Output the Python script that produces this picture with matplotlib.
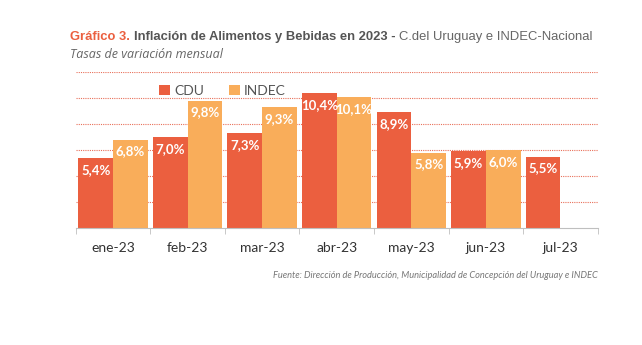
import numpy as np
import matplotlib.pyplot as plt

months = ["ene-23", "feb-23", "mar-23", "abr-23", "may-23", "jun-23", "jul-23"]
cdu = [5.4, 7.0, 7.3, 10.4, 8.9, 5.9, 5.5]
indec = [6.8, 9.8, 9.3, 10.1, 5.8, 6.0, None]

C_CDU = "#EB5F3F"
C_INDEC = "#F9AD5A"
GRID = "#E8705A"

body = "Lato"
head = "Liberation Sans"


def main():
    fig = plt.figure(figsize=(6.42, 3.45), dpi=100)
    ax = fig.add_axes([0.118, 0.339, 0.813, 0.452])

    x = np.arange(len(months))
    w = 0.465
    for i, (a, b) in enumerate(zip(cdu, indec)):
        ax.bar(x[i] - w / 2, a, w, color=C_CDU, zorder=3, label="CDU" if i == 0 else None)
        ax.text(x[i] - w / 2, a - 0.45, f"{a:.1f}%".replace(".", ","), ha="center", va="top",
                color="white", fontsize=9.5, fontweight="bold", family=body, zorder=4)
        if b is not None:
            ax.bar(x[i] + w / 2, b, w, color=C_INDEC, zorder=3, label="INDEC" if i == 0 else None)
            ax.text(x[i] + w / 2, b - 0.45, f"{b:.1f}%".replace(".", ","), ha="center", va="top",
                    color="white", fontsize=9.5, fontweight="bold", family=body, zorder=4)

    ax.set_xlim(-0.5, len(months) - 0.5)
    ax.set_ylim(0, 12)
    ax.set_yticks(np.arange(2, 13, 2))
    ax.yaxis.grid(True, color=GRID, linestyle=(0, (1, 1)), linewidth=0.8, zorder=0)
    ax.tick_params(axis="y", left=False, labelleft=False)
    for s in ["top", "right", "left"]:
        ax.spines[s].set_visible(False)
    ax.spines["bottom"].set_color("#BFBFBF")
    ax.spines["bottom"].set_zorder(5)

    ax.set_xticks(x)
    ax.set_xticklabels(months, family=body, fontsize=10, color="#333333")
    ax.tick_params(axis="x", length=0, pad=10)
    ax.set_xticks(np.arange(-0.5, len(months), 1), minor=True)
    ax.tick_params(axis="x", which="minor", length=4, color="#BFBFBF")

    ax.legend(loc="upper left", bbox_to_anchor=(0.135, 1.0), ncol=2, frameon=False,
              prop={"family": body, "size": 10}, handlelength=0.8, handleheight=0.8,
              columnspacing=1.8, handletextpad=0.3, labelcolor="#555555")

    # title in three pieces, scaled to fit the reference width
    pieces = [("Gráfico 3. ", C_CDU, "bold"),
              ("Inflación de Alimentos y Bebidas en 2023 - ", "#555555", "bold"),
              ("C.del Uruguay e INDEC-Nacional", "#666666", "normal")]
    fig.canvas.draw()
    r = fig.canvas.get_renderer()
    size = 10.5
    total = 0
    tmp = []
    for txt, col, fw in pieces:
        t = fig.text(0, 0, txt, fontweight=fw, fontsize=size, family=head)
        total += t.get_window_extent(renderer=r).width
        tmp.append(t)
    for t in tmp:
        t.remove()
    size = size * 528 / total

    xpos = 70 / 642
    ypos = 1 - 37 / 345
    for txt, col, fw in pieces:
        t = fig.text(xpos, ypos, txt, color=col, fontweight=fw, fontsize=size,
                     family=head, va="center", ha="left")
        bb = t.get_window_extent(renderer=r)
        xpos += bb.width / fig.bbox.width

    fig.text(70 / 642, 1 - 55 / 345, "Tasas de variación mensual", style="italic",
             color="#666666", fontsize=9, family="Open Sans", va="center")

    src = fig.text(598 / 642, 1 - 275 / 345,
                   "Fuente: Dirección de Producción, Municipalidad de Concepción del Uruguay e INDEC",
                   style="italic", color="#777777", fontsize=7.5, family=body,
                   va="center", ha="right")
    sw = src.get_window_extent(renderer=r).width
    src.set_fontsize(7.5 * 326 / sw)

    fig.savefig("out.png", dpi=100)


if __name__ == "__main__":
    main()
